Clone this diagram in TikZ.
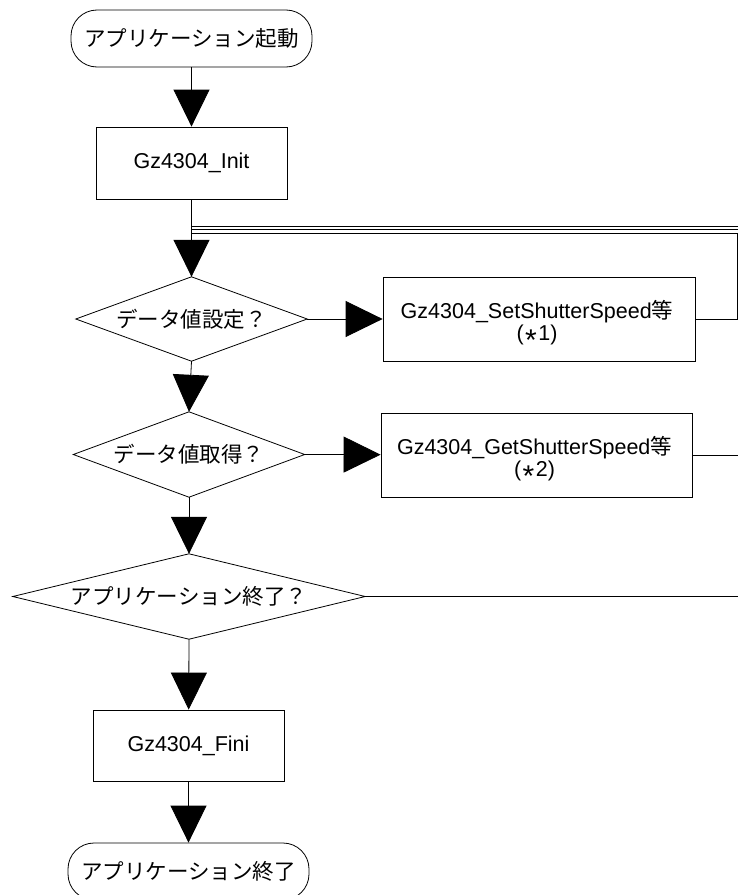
\documentclass[tikz,border=0pt]{standalone}
\usepackage{fontspec}
\setmainfont{Liberation Sans}
\newfontfamily\jp{Noto Sans CJK JP}
\usetikzlibrary{arrows.meta}
\newcommand{\midast}{\kern1.5bp\raisebox{-10bp}{\fontsize{30bp}{22bp}\selectfont *}\kern1.5bp}
\begin{document}
\begin{tikzpicture}[x=1bp,y=-1bp,
  font=\fontsize{21.5bp}{22bp}\selectfont,
  conn/.style={line width=0.8bp,draw=black},
  arr/.style={conn,-{Triangle[length=37bp,width=36bp]}},
  box/.style={draw,line width=0.8bp,inner sep=0pt},
  term/.style={draw,line width=0.8bp,rounded corners=26bp,minimum width=241bp,minimum height=57bp,inner sep=0pt},
  dec/.style={inner sep=0pt,minimum height=85bp},
  lbl/.style={inner sep=0pt,align=center}]
\useasboundingbox (0,0) rectangle (738,895);
\clip (0,0) rectangle (738,895);
% nodes
\node[term] (start) at (191.5,38.5) {\jp アプリケーション起動};
\node[box,minimum width=191bp,minimum height=72bp] (init) at (191.5,163) {Gz4304\_Init};
\node[dec,minimum width=231bp,minimum height=84bp] (d1) at (191.5,319) {\jp データ値設定？};
\node[box,minimum width=312bp,minimum height=84bp] (set) at (539,319) {};
\node[lbl] (setlbl) at (537,325) {Gz4304\_SetShutterSpeed{\jp 等}\\(\midast1)};
\node[dec,minimum width=231bp] (d2) at (189,454.5) {\jp データ値取得？};
\node[box,minimum width=311bp,minimum height=84bp] (get) at (536.5,455) {};
\node[lbl] (getlbl) at (534.5,461) {Gz4304\_GetShutterSpeed{\jp 等}\\(\midast2)};
\node[dec,minimum width=352bp] (d3) at (189,596.5) {\jp アプリケーション終了？};
\node[box,minimum width=191bp,minimum height=71bp] (fini) at (188.5,745.5) {Gz4304\_Fini};
\node[term] (end) at (188.5,871.5) {\jp アプリケーション終了};
% diamonds
\foreach \d in {d1,d2,d3}
  \draw[conn] (\d.north) -- (\d.east) -- (\d.south) -- (\d.west) -- cycle;
% main flow
\draw[arr] (start) -- (init);
\draw[arr] (init) -- (d1.north);
\draw[arr] (d1.south) -- (d2.north);
\draw[arr] (d2.south) -- (d3.north);
\draw[arr] (d3.south) -- (fini);
\draw[arr] (fini) -- (end);
\draw[arr] (d1.east) -- (set);
\draw[arr] (d2.east) -- (get);
% return loops
\coordinate (j1) at (191.5,226);
\coordinate (j2) at (191.5,229.5);
\coordinate (j3) at (191.5,233);
\coordinate (c3a) at (737,319);
\coordinate (c3b) at (737,233);
\coordinate (c2a) at (742,455);
\coordinate (c2b) at (742,229.5);
\coordinate (c1a) at (747,596.5);
\coordinate (c1b) at (747,226);
\draw[conn] (set.east) -- (c3a) -- (c3b) -- (j3);
\draw[conn] (get.east) -- (c2a) -- (c2b) -- (j2);
\draw[conn] (d3.east) -- (c1a) -- (c1b) -- (j1);
\end{tikzpicture}
\end{document}
